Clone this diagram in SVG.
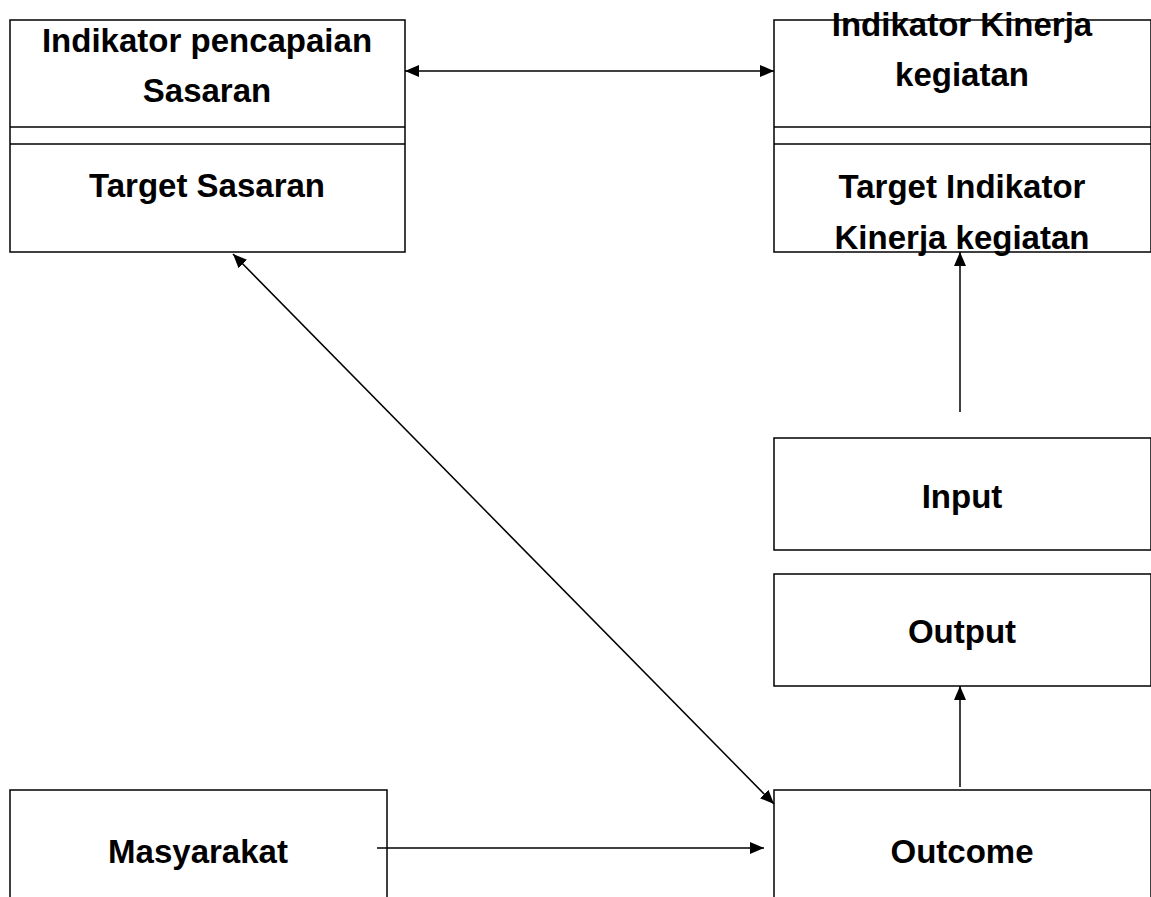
<svg xmlns="http://www.w3.org/2000/svg" width="1151" height="897" viewBox="0 0 1151 897">
<style>
.box{fill:#fff;stroke:#000;stroke-width:1.5}
.ln{stroke:#000;stroke-width:1.5;fill:none}
.t{font-family:"Liberation Sans",Arial,sans-serif;font-weight:bold;font-size:33px;fill:#000;text-anchor:middle}
</style>
<defs>
<marker id="ah" viewBox="0 0 14 12" refX="14" refY="6" markerWidth="14" markerHeight="12" markerUnits="userSpaceOnUse" orient="auto-start-reverse">
<path d="M0,0 L14,6 L0,12 Z" fill="#000"/>
</marker>
</defs>
<g id="indikator-sasaran">
<rect class="box" x="10" y="20" width="395" height="232"/>
<line class="ln" x1="10" y1="127" x2="405" y2="127"/>
<line class="ln" x1="10" y1="144" x2="405" y2="144"/>
<text class="t" x="207" y="52">Indikator pencapaian</text>
<text class="t" x="207" y="102">Sasaran</text>
<text class="t" x="207" y="197">Target Sasaran</text>
</g>
<g id="indikator-kegiatan">
<rect class="box" x="774" y="20" width="377" height="232"/>
<line class="ln" x1="774" y1="127" x2="1151" y2="127"/>
<line class="ln" x1="774" y1="144" x2="1151" y2="144"/>
<text class="t" x="962" y="36">Indikator Kinerja</text>
<text class="t" x="962" y="86">kegiatan</text>
<text class="t" x="962" y="198">Target Indikator</text>
<text class="t" x="962" y="249">Kinerja kegiatan</text>
</g>
<g id="input">
<rect class="box" x="774" y="438" width="377" height="112"/>
<text class="t" x="962" y="508">Input</text>
</g>
<g id="output">
<rect class="box" x="774" y="574" width="377" height="112"/>
<text class="t" x="962" y="643">Output</text>
</g>
<g id="masyarakat">
<rect class="box" x="10" y="790" width="377" height="120"/>
<text class="t" x="198" y="863">Masyarakat</text>
</g>
<g id="outcome">
<rect class="box" x="774" y="790" width="377" height="120"/>
<text class="t" x="962" y="863">Outcome</text>
</g>
<g id="connectors">
<line class="ln" x1="405" y1="71" x2="774" y2="71" marker-start="url(#ah)" marker-end="url(#ah)"/>
<line class="ln" x1="233" y1="254" x2="774" y2="804" marker-start="url(#ah)" marker-end="url(#ah)"/>
<line class="ln" x1="960" y1="412" x2="960" y2="252" marker-end="url(#ah)"/>
<line class="ln" x1="960" y1="787" x2="960" y2="686" marker-end="url(#ah)"/>
<line class="ln" x1="377" y1="848" x2="764" y2="848" marker-end="url(#ah)"/>
</g>
</svg>
